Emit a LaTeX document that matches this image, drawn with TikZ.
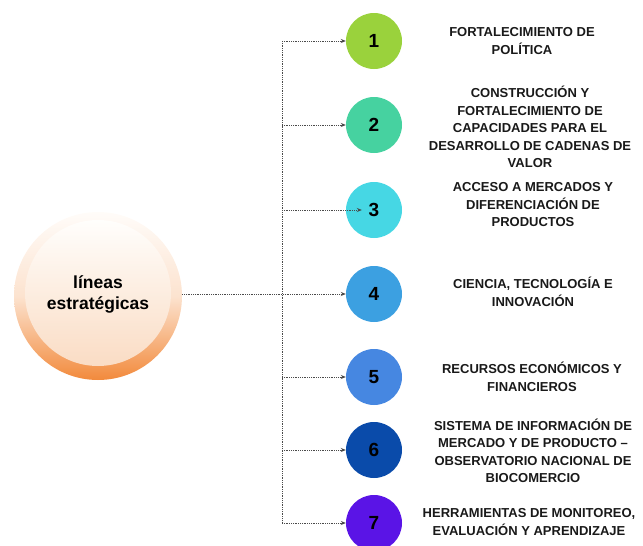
\documentclass[tikz,border=0pt]{standalone}
\usepackage{fontspec}
\setmainfont{Liberation Sans}
\usetikzlibrary{arrows.meta}
\definecolor{cA}{HTML}{9AD23C}
\definecolor{cB}{HTML}{46D2A0}
\definecolor{cC}{HTML}{46D7E4}
\definecolor{cD}{HTML}{3CA0E1}
\definecolor{cE}{HTML}{4687E1}
\definecolor{cF}{HTML}{0A4BAA}
\definecolor{cG}{HTML}{5A14E6}
\definecolor{orOut}{HTML}{F28A3C}
\definecolor{orTop}{HTML}{FFFCF9}
\definecolor{inTop}{HTML}{FFFEFC}
\definecolor{inBot}{HTML}{FADCC4}
\definecolor{lineC}{HTML}{4A4A4A}
\tikzset{
  numc/.style={circle, minimum size=56pt, inner sep=0pt, font=\fontsize{19}{19}\selectfont\bfseries, text=black},
  lab/.style={align=center, font=\fontsize{13}{17.5}\selectfont\bfseries, text=black!90, inner sep=0pt},
  conn/.style={draw=lineC, densely dotted, line width=0.8pt, -{Stealth[length=5pt,width=4pt,fill=black]}},
  vline/.style={draw=lineC, densely dotted, line width=0.8pt}
}
\begin{document}
\begin{tikzpicture}[x=1pt,y=-1pt]
\useasboundingbox (0,0) rectangle (643,546);
% big circle
\shade[top color=orTop, bottom color=orOut, middle color=orOut!22!orTop] (98,296) circle (84);
\shade[top color=inTop, bottom color=inBot] (98,293) circle (73);
\node[circle, minimum size=168pt, inner sep=0pt, align=center, font=\fontsize{17.5}{21}\selectfont\bfseries] (big) at (98,294) {líneas\\estratégicas};
% number circles
\node[numc, fill=cA] (c1) at (374,41) {1};
\node[numc, fill=cB] (c2) at (374,125) {2};
\node[numc, fill=cC] (c3) at (374,210) {3};
\node[numc, fill=cD] (c4) at (374,294) {4};
\node[numc, fill=cE] (c5) at (374,377) {5};
\node[numc, fill=cF] (c6) at (374,450) {6};
\node[numc, fill=cG] (c7) at (374,523) {7};
% vertical spine
\coordinate (v1) at (282,41);
\coordinate (v2) at (282,125);
\coordinate (v3) at (282,210);
\coordinate (v4) at (282,294);
\coordinate (v5) at (282,377);
\coordinate (v6) at (282,450);
\coordinate (v7) at (282,523);
\draw[vline] (v1) -- (v7);
\draw[conn] (v1) -- (c1.west);
\draw[conn] (v2) -- (c2.west);
\draw[conn] (v3) -- ([xshift=16pt]c3.west);
\draw[conn] (big.east) -- (c4.west);
\draw[conn] (v5) -- (c5.west);
\draw[conn] (v6) -- (c6.west);
\draw[conn] (v7) -- (c7.west);
% labels
\node[lab] (t1) at (522,41) {FORTALECIMIENTO DE\\POLÍTICA};
\node[lab] (t2) at (530,127) {CONSTRUCCIÓN Y\\FORTALECIMIENTO DE\\CAPACIDADES PARA EL\\DESARROLLO DE CADENAS DE\\VALOR};
\node[lab] (t3) at (533,205) {ACCESO A MERCADOS Y\\DIFERENCIACIÓN DE\\PRODUCTOS};
\node[lab] (t4) at (533,292) {CIENCIA, TECNOLOGÍA E\\INNOVACIÓN};
\node[lab] (t5) at (532,377) {RECURSOS ECONÓMICOS Y\\FINANCIEROS};
\node[lab] (t6) at (533,451) {SISTEMA DE INFORMACIÓN DE\\MERCADO Y DE PRODUCTO –\\OBSERVATORIO NACIONAL DE\\BIOCOMERCIO};
\node[lab] (t7) at (529,522) {HERRAMIENTAS DE MONITOREO,\\EVALUACIÓN Y APRENDIZAJE};
\end{tikzpicture}
\end{document}
